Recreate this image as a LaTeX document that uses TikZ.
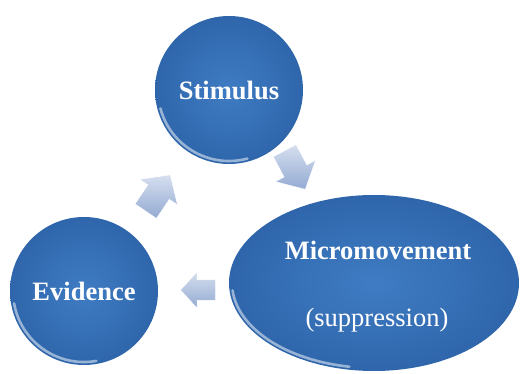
\documentclass[tikz,border=0pt]{standalone}
\usepackage{fontspec}
\setmainfont{Liberation Serif}
\usetikzlibrary{shapes.geometric}
\definecolor{binner}{HTML}{3F7CC3}
\definecolor{bouter}{HTML}{2F66AB}
\definecolor{arrlight}{HTML}{D6DFEF}
\definecolor{arrdark}{HTML}{93AAD2}
\tikzset{
  bubble/.style={draw=none, shading=radial, inner color=binner, outer color=bouter, inner sep=0pt},
  lbl/.style={text=white, font=\bfseries\fontsize{26.5}{29}\selectfont},
  sublbl/.style={text=white, font=\fontsize{26.5}{29}\selectfont},
  rim/.style={white, opacity=0.5, line width=2.6pt, line cap=round},
  arrowbody/.style={top color=arrlight, bottom color=arrdark, draw=white, line width=0.6pt},
  pics/blockarrow/.style={code={
    \path[arrowbody] (-22,-13) -- (1,-13) -- (1,-23) -- (22,0) -- (1,23) -- (1,13) -- (-22,13) -- cycle;}}
}
\begin{document}
\begin{tikzpicture}[x=1pt,y=-1pt]
\useasboundingbox (0,0) rectangle (520,374);
% nodes
\node[circle, minimum size=148pt, bubble, lbl] (stim) at (229,90) {Stimulus};
\node[circle, minimum size=148pt, bubble, lbl] (evid) at (84,291) {Evidence};
\node[ellipse, minimum width=290pt, minimum height=176pt, bubble] (micro) at (374,283) {};
\node[lbl] (microA) at (378,250) {Micromovement};
\node[sublbl] (microB) at (377,320) {(suppression)};
% glossy rims
\draw[rim] (stim.center) ++(165:71) arc[start angle=165, end angle=75, radius=71];
\draw[rim] (evid.center) ++(170:71) arc[start angle=170, end angle=80, radius=71];
\draw[rim] (micro.center) ++(175:142 and 85) arc[start angle=175, end angle=100, x radius=142, y radius=85];
% arrows
\pic[rotate=-62] (arrA) at (295,170) {blockarrow};
\pic[rotate=180, scale=0.8] (arrB) at (198,290) {blockarrow};
\pic[rotate=56] (arrC) at (158,193) {blockarrow};
\end{tikzpicture}
\end{document}
